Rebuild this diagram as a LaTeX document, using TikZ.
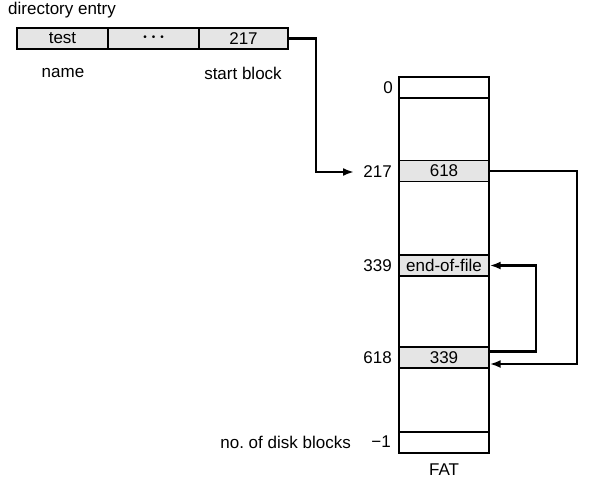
\documentclass[tikz,border=0pt]{standalone}
\usepackage{fontspec}
\setmainfont{Liberation Sans}
\usetikzlibrary{arrows.meta}
\begin{document}
\begin{tikzpicture}[x=1pt,y=-1pt,
  every node/.style={font=\fontsize{17}{20}\selectfont, inner sep=0pt},
  cell/.style={draw, line width=1.3pt, fill=black!10, minimum height=21pt},
  plain/.style={draw, line width=1.3pt, minimum width=90pt, minimum height=21pt},
  link/.style={line width=2.4pt, -{Latex[length=11pt,width=8pt]}},
  lbl/.style={anchor=east}]
\useasboundingbox (0,0) rectangle (601,484);
% directory entry
\node[anchor=west] (dirlbl) at (8,10) {directory entry};
\node[cell, minimum width=91pt] (name) at (62.5,38.5) {test};
\node[cell, minimum width=91pt] (dots) at (153.5,38.5) {\fontsize{10}{10}\selectfont •\hspace{5pt}•\hspace{5pt}•};
\node[cell, minimum width=89pt] (start) at (243.5,38.5) {217};
\node (namelbl) at (63,73) {name};
\node (startlbl) at (243,73) {start block};
% FAT column
\node[draw, line width=1.3pt, minimum width=90pt, minimum height=376pt] (fat) at (444,265) {};
\node[plain] (r0) at (444,87.5) {};
\node[cell, minimum width=90pt] (r217) at (444,171) {618};
\node[cell, minimum width=90pt] (r339) at (444,265.5) {end-of-file};
\node[cell, minimum width=90pt] (r618) at (444,357.5) {339};
\node[plain] (rend) at (444,442.5) {};
\node (fatlbl) at (444,470) {FAT};
% row labels
\node[lbl] (l0) at (393,88) {0};
\node[lbl] (l217) at (392,172) {217};
\node[lbl] (l339) at (392,266) {339};
\node[lbl] (l618) at (392,358) {618};
\node[lbl] (lend) at (391,442) {−1};
\node[lbl] (ndb) at (351,442) {no.\ of disk blocks};
% connectors
\coordinate (t217) at (354,172);
\draw[link] (start.east) -- (316,38.5) |- (t217);
\draw[link] (r217.east) -- (577,171) |- ([yshift=-6.5pt]r618.east);
\draw[link] ([yshift=6pt]r618.east) -- (536,351.5) |- (r339.east);
\end{tikzpicture}
\end{document}
